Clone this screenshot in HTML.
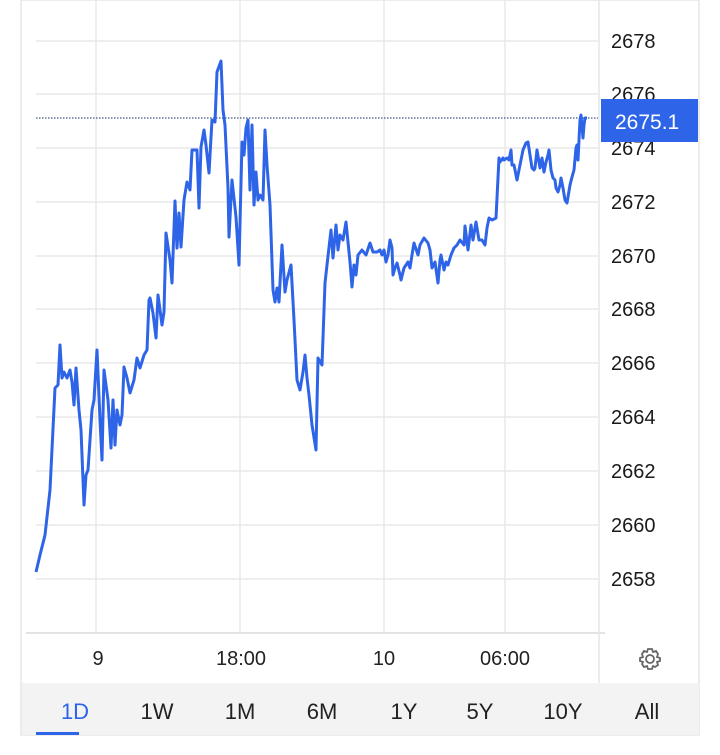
<!DOCTYPE html>
<html><head><style>
body{margin:0;background:#fff;width:720px;height:755px;overflow:hidden;font-family:"Liberation Sans",sans-serif;}
</style></head><body>
<svg width="720" height="755" xmlns="http://www.w3.org/2000/svg" style="position:absolute;left:0;top:0">
<rect x="21" y="0" width="678" height="735" fill="#fff" stroke="#e6e6e6" stroke-width="1.5"/>
<rect x="22" y="683" width="677" height="52" fill="#f3f3f3"/>
<g stroke="#e9e9e9" stroke-width="1.5">
<line x1="36" x2="598" y1="41" y2="41"/><line x1="36" x2="598" y1="94" y2="94"/>
<line x1="36" x2="598" y1="148" y2="148"/><line x1="36" x2="598" y1="202" y2="202"/>
<line x1="36" x2="598" y1="256" y2="256"/><line x1="36" x2="598" y1="309" y2="309"/>
<line x1="36" x2="598" y1="363" y2="363"/><line x1="36" x2="598" y1="417" y2="417"/>
<line x1="36" x2="598" y1="471" y2="471"/><line x1="36" x2="598" y1="525" y2="525"/>
<line x1="36" x2="598" y1="579" y2="579"/>
<line x1="96" x2="96" y1="0" y2="632"/><line x1="240" x2="240" y1="0" y2="632"/>
<line x1="384" x2="384" y1="0" y2="632"/><line x1="505" x2="505" y1="0" y2="632"/>
</g>
<line x1="26" x2="605" y1="633" y2="633" stroke="#e3e3e3" stroke-width="2"/>
<line x1="599" x2="599" y1="0" y2="683" stroke="#e6e6e6" stroke-width="1.5"/>
<line x1="36" x2="598" y1="118" y2="118" stroke="#3d5a80" stroke-width="1.3" stroke-dasharray="1.5 1.5"/>
<polyline fill="none" stroke="#2e64e8" stroke-width="3" stroke-linejoin="round" points="36,572 40,555 45,535 50,490 55,388 58,385 60,345 62,378 64,372 67,378 70,370 72,382 74,405 76,368 79,410 81,430 84,505 86,475 88,470 92,410 94,400 97,350 100,420 102,460 104,370 108,400 111,448 113,400 115,445 117,410 120,425 122,415 124,367 127,378 130,393 134,380 137,358 140,368 144,355 147,350 149,300 150,298 153,313 156,338 158,295 162,325 164,312 166,233 170,260 172,283 175,201 177,248 179,213 181,247 184,200 187,182 190,190 192,150 197,150 199,208 201,147 204,130 206,145 209,173 212,120 215,122 217,72 221,61 223,110 225,125 228,188 229,237 232,180 236,217 239,265 242,142 244,155 246,128 248,120 250,190 252,125 254,205 256,172 258,200 260,195 263,200 265,130 267,165 270,205 273,290 275,302 277,288 279,302 282,245 285,292 287,280 291,265 294,320 297,380 300,390 303,372 305,355 307,378 309,395 312,425 316,450 318,358 322,365 325,283 327,265 331,230 333,258 336,225 338,250 340,235 343,240 346,222 350,262 352,287 354,265 356,275 358,255 362,250 366,255 370,243 373,252 377,252 380,250 382,255 384,250 386,262 388,255 390,240 392,248 393,275 395,268 397,263 400,275 401,280 404,268 408,262 410,268 412,255 414,243 418,255 420,245 424,238 428,243 430,250 432,268 435,262 438,283 440,260 441,255 444,270 446,262 448,265 451,255 454,248 457,245 460,240 464,245 465,226 468,250 471,225 473,240 476,222 479,240 482,240 485,245 487,228 489,218 492,220 496,218 499,158 500,162 503,158 504,160 507,158 509,160 511,150 512,165 514,165 516,175 517,180 520,165 523,150 526,143 528,142 530,155 532,168 534,170 535,168 537,150 540,168 542,158 544,172 546,162 548,155 549,150 551,170 553,178 555,180 556,188 558,192 560,185 561,178 563,188 565,200 567,203 570,185 572,177 574,170 576,148 577,145 578,160 580,120 581,115 583,138 584,125 585,118 587,118"/>
<g font-family="Liberation Sans, sans-serif" font-size="20" fill="#1a1a1a">
<text x="611" y="48">2678</text><text x="611" y="101">2676</text>
<text x="611" y="155">2674</text><text x="611" y="209">2672</text>
<text x="611" y="263">2670</text><text x="611" y="316">2668</text>
<text x="611" y="370">2666</text><text x="611" y="424">2664</text>
<text x="611" y="478">2662</text><text x="611" y="532">2660</text>
<text x="611" y="586">2658</text>
</g>
<rect x="601" y="99" width="97" height="43" fill="#2e64e8"/>
<text x="615" y="129" font-family="Liberation Sans, sans-serif" font-size="21" fill="#fff">2675.1</text>
<g font-family="Liberation Sans, sans-serif" font-size="20" fill="#222" text-anchor="middle">
<text x="98" y="665">9</text><text x="241" y="665">18:00</text>
<text x="384" y="665">10</text><text x="505" y="665">06:00</text>
</g>
<g transform="translate(650,659)" fill="none" stroke="#666" stroke-width="1.8">
<circle r="4"/>
<path d="M-2,-10 L2,-10 L3,-7 L6,-8 L8,-5 L7,-2 L10,-1 L10,2 L7,3 L8,6 L5,8 L3,7 L2,10 L-2,10 L-3,7 L-6,8 L-8,5 L-7,3 L-10,2 L-10,-1 L-7,-2 L-8,-5 L-6,-8 L-3,-7 Z"/>
</g>
<g font-family="Liberation Sans, sans-serif" font-size="22" fill="#222" text-anchor="middle">
<text x="75" y="719" fill="#2e64e8">1D</text><text x="157" y="719">1W</text>
<text x="240" y="719">1M</text><text x="322" y="719">6M</text>
<text x="404" y="719">1Y</text><text x="480" y="719">5Y</text>
<text x="563" y="719">10Y</text><text x="647" y="719">All</text>
</g>
<rect x="36" y="732" width="43" height="3" fill="#2e64e8"/>
</svg>
</body></html>
